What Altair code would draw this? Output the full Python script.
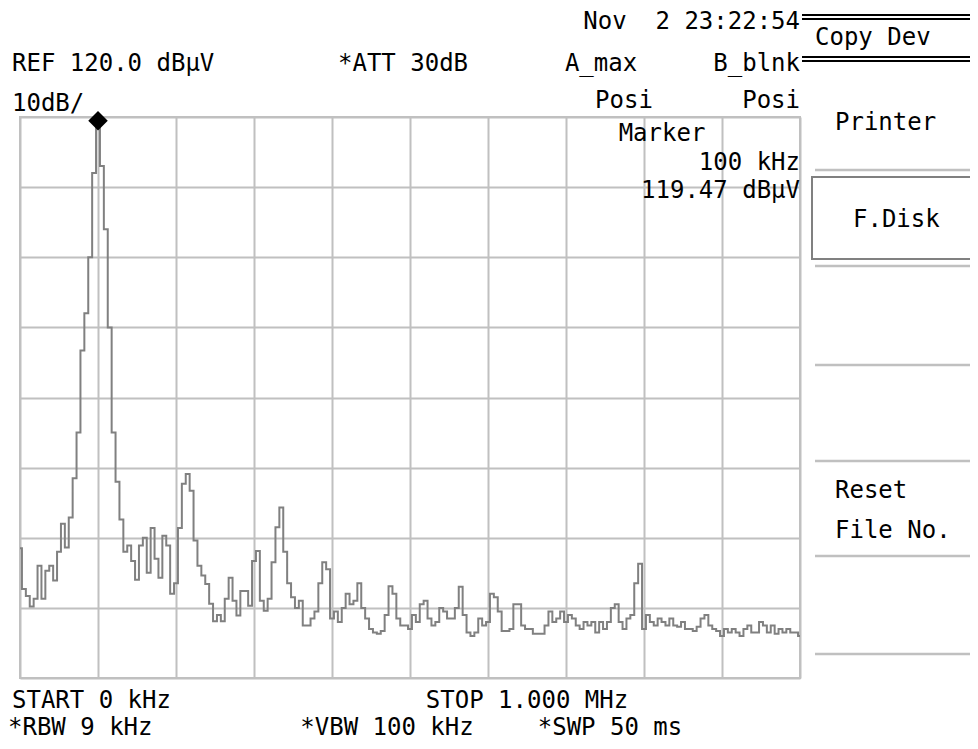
import altair as alt
import pandas as pd

# ---------------- data ----------------
freq_khz = list(range(0, 1001, 5))
level_dbuv = [
    58.5, 52.7, 51.7, 50.2, 51.3, 56.0, 51.3, 55.3, 56.0, 53.9,
    58.0, 62.0, 58.6, 62.9, 68.5, 75.0, 86.7, 92.0, 100.0, 112.0,
    119.47, 113.0, 104.0, 90.0, 75.0, 68.0, 62.6, 58.0, 58.9, 56.7,
    54.0, 58.9, 60.0, 55.0, 61.4, 57.0, 54.3, 60.3, 58.9, 52.0,
    53.5, 61.4, 67.7, 69.1, 66.7, 59.6, 56.0, 54.6, 53.4, 50.6,
    48.1, 49.0, 48.1, 51.3, 54.3, 51.0, 48.9, 52.4, 52.4, 50.3,
    56.7, 58.1, 51.0, 49.6, 51.3, 56.5, 61.5, 64.3, 58.0, 53.5,
    51.5, 50.0, 51.0, 47.5, 47.5, 48.5, 49.5, 53.5, 56.5, 55.5,
    48.5, 49.5, 48.0, 50.0, 52.0, 50.5, 51.0, 53.5, 50.0, 48.5,
    47.0, 46.5, 46.3, 46.7, 49.0, 53.1, 52.0, 48.5, 47.5, 47.5,
    47.0, 49.0, 48.0, 50.5, 51.0, 48.5, 47.5, 48.0, 50.0, 49.5,
    48.5, 48.5, 50.0, 53.0, 49.0, 46.5, 46.0, 46.5, 48.5, 47.5,
    48.0, 52.0, 51.5, 49.5, 46.7, 46.7, 47.0, 50.5, 50.5, 47.5,
    47.0, 47.0, 46.3, 46.3, 46.3, 47.5, 49.5, 48.0, 48.5, 49.5,
    48.0, 49.0, 48.5, 47.5, 47.0, 48.0, 47.5, 48.0, 46.5, 48.0,
    47.0, 48.0, 50.0, 50.5, 48.0, 47.0, 48.5, 49.0, 53.5, 56.3,
    47.0, 49.0, 48.0, 47.5, 48.5, 48.0, 47.5, 48.5, 47.5, 47.3,
    48.0, 47.0, 47.0, 46.7, 47.3, 48.5, 49.0, 47.5, 47.0, 46.7,
    46.0, 47.0, 46.5, 47.0, 46.5, 46.0, 47.0, 47.5, 46.5, 46.5,
    48.0, 47.5, 46.5, 47.5, 46.3, 47.0, 46.5, 47.0, 46.5, 46.5,
    46.0,
]
marker_khz = [100]
marker_dbuv = [119.47]
x_ticks = list(range(0, 1001, 100))
y_ticks = list(range(40, 121, 10))

# ---------------- layout ----------------
X0, Y0 = 20, 117          # plot area origin in page pixels
W, H = 780, 561
FONT = "DejaVu Sans Mono"
FS = 24
GRID = "#c0c0c0"
TRACE = "#808080"

df = pd.DataFrame({"freq": freq_khz, "level": level_dbuv})
mk = pd.DataFrame({"freq": marker_khz, "level": marker_dbuv})
dummy = pd.DataFrame({"a": [0]})

xenc = alt.X("freq:Q", title="",
             scale=alt.Scale(domain=[0, 1000], nice=False, zero=False),
             axis=alt.Axis(values=x_ticks, labels=False, ticks=False, domain=False, grid=True))
yenc = alt.Y("level:Q", title="",
             scale=alt.Scale(domain=[40, 120], nice=False, zero=False),
             axis=alt.Axis(values=y_ticks, labels=False, ticks=False, domain=False, grid=True))

trace = alt.Chart(df).mark_line(color=TRACE, strokeWidth=2, interpolate="step").encode(x=xenc, y=yenc)
marker = alt.Chart(mk).mark_point(shape="diamond", filled=True, size=380, color="black", opacity=1).encode(
    x="freq:Q", y="level:Q")


def label(txt, px, py, align="left"):
    return alt.Chart(dummy).mark_text(
        text=txt, align=align, baseline="alphabetic", font=FONT, fontSize=FS, color="black"
    ).encode(x=alt.value(px - X0), y=alt.value(py - Y0))


def hline(px1, px2, py, color, width):
    return alt.Chart(dummy).mark_rule(color=color, strokeWidth=width).encode(
        x=alt.value(px1 - X0), x2=alt.value(px2 - X0), y=alt.value(py - Y0))


labels = [
    label("Nov\u00a0 2 23:22:54", 800, 29, "right"),
    label("REF 120.0 dB\u00b5V", 12, 71),
    label("*ATT 30dB", 403, 71, "center"),
    label("A_max", 601, 71, "center"),
    label("B_blnk", 800, 71, "right"),
    label("10dB/", 12, 111),
    label("Posi", 624, 108, "center"),
    label("Posi", 800, 108, "right"),
    label("Marker", 662, 141, "center"),
    label("100 kHz", 800, 170, "right"),
    label("119.47 dB\u00b5V", 800, 198, "right"),
    label("START 0 kHz", 12, 708),
    label("STOP 1.000 MHz", 527, 708, "center"),
    label("*RBW 9 kHz", 8, 735),
    label("*VBW 100 kHz", 387, 735, "center"),
    label("*SWP 50 ms", 610, 735, "center"),
    label("Copy Dev", 815, 45),
    label("Printer", 835, 130),
    label("F.Disk", 853, 227),
    label("Reset", 835, 498),
    label("File No.", 835, 538),
]

rules = [
    hline(802, 980, 15, "black", 2),
    hline(802, 980, 19, "black", 2),
    hline(802, 980, 57, "black", 2),
    hline(802, 980, 61, "black", 2),
    hline(815, 980, 170, GRID, 2.5),
    hline(815, 980, 266, GRID, 2.5),
    hline(815, 980, 365, GRID, 2.5),
    hline(815, 980, 461, GRID, 2.5),
    hline(815, 980, 556, GRID, 2.5),
    hline(815, 980, 654, GRID, 2.5),
]

box = alt.Chart(dummy).mark_rect(fillOpacity=0, stroke=TRACE, strokeWidth=2).encode(
    x=alt.value(812 - X0), x2=alt.value(990 - X0), y=alt.value(177 - Y0), y2=alt.value(259 - Y0))

chart = alt.layer(trace, marker, box, *rules, *labels).properties(
    width=W, height=H,
    autosize="none",
    padding={"left": X0 - 8, "top": Y0 - 8, "right": 962 - (X0 - 8) - W, "bottom": 733 - (Y0 - 8) - H},
    background="white",
).configure_view(stroke=GRID, strokeWidth=2).configure_axis(
    gridColor=GRID, gridWidth=2, gridOpacity=1)

chart.save("out.html", embed_options={"renderer": "svg", "actions": False})
